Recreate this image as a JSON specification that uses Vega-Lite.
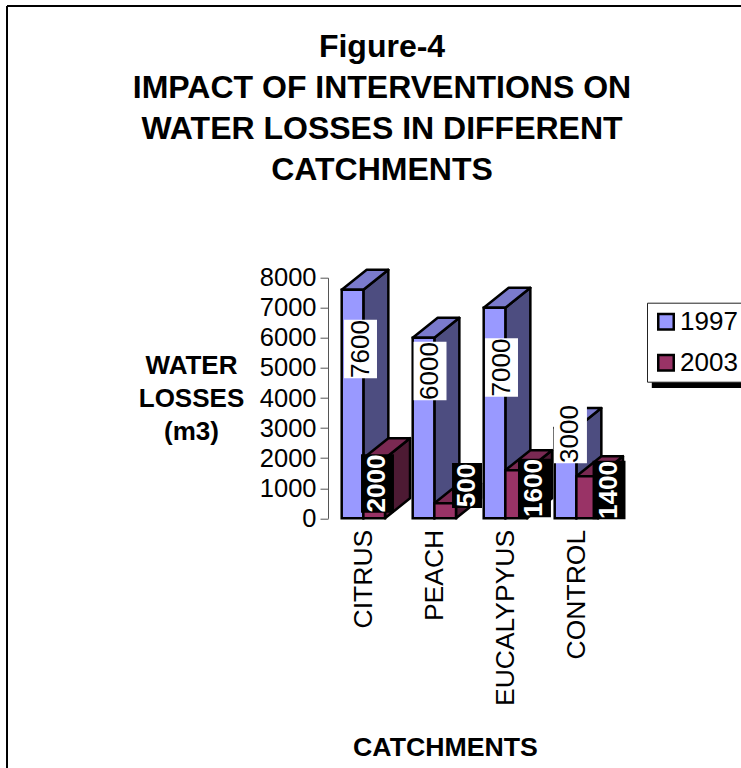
{
"$schema":"https://vega.github.io/schema/vega-lite/v6.json",
"width":284,"height":240.6,"autosize":"none",
"padding":{"left":328,"top":277.7,"right":129,"bottom":249.7},
"background":"white",
"config":{"view":{"stroke":null},"font":"Liberation Sans"},
"title":{"text":["Figure-4","IMPACT OF INTERVENTIONS ON","WATER LOSSES IN DIFFERENT","CATCHMENTS"],"anchor":"middle","frame":"group","dx":-88,"dy":185,"fontSize":32,"fontWeight":"bold","lineHeight":41,"font":"Liberation Sans","color":"black"},
"data":{"values":[
{"catchment":"CITRUS","year":"1997","value":7600},
{"catchment":"PEACH","year":"1997","value":6000},
{"catchment":"EUCALYPYUS","year":"1997","value":7000},
{"catchment":"CONTROL","year":"1997","value":3000},
{"catchment":"CITRUS","year":"2003","value":2000},
{"catchment":"PEACH","year":"2003","value":500},
{"catchment":"EUCALYPYUS","year":"2003","value":1600},
{"catchment":"CONTROL","year":"2003","value":1400}
]},
"transform":[
{"calculate":"indexof(['CITRUS','PEACH','EUCALYPYUS','CONTROL'],datum.catchment)+0.193+(datum.year==='2003'?0.305:0)","as":"x0"},
{"calculate":"datum.x0+0.305","as":"x1"},
{"calculate":"{'1997CITRUS':0.458,'1997PEACH':1.437,'1997EUCALYPYUS':2.444,'1997CONTROL':3.415,'2003CITRUS':0.697,'2003PEACH':1.958,'2003EUCALYPYUS':2.908,'2003CONTROL':3.958}[datum.year+datum.catchment]","as":"lx"},
{"calculate":"{'1997CITRUS':5630,'1997PEACH':4898,'1997EUCALYPYUS':5014,'1997CONTROL':2803,'2003CITRUS':1157,'2003PEACH':1091,'2003EUCALYPYUS':1007,'2003CONTROL':941}[datum.year+datum.catchment]","as":"ly"},
{"calculate":"datum.value===500?0.211:0.232","as":"hw"},
{"calculate":"datum.value===500?748:975","as":"hh"},
{"calculate":"datum.lx-datum.hw","as":"bx0"},
{"calculate":"datum.lx+datum.hw","as":"bx1"},
{"calculate":"datum.ly-datum.hh","as":"by0"},
{"calculate":"datum.ly+datum.hh","as":"by1"}
],
"layer":[
{"transform":[{"calculate":"[0,1]","as":"t"},{"flatten":["t"]},{"calculate":"datum.x1+datum.t*0.352","as":"sx"},{"calculate":"datum.value+datum.t*665","as":"sy"},{"calculate":"datum.t*665","as":"sy0"}],
"mark":{"type":"area","stroke":"black","strokeWidth":2.5,"strokeJoin":"round"},
"encoding":{"x":{"field":"sx","type":"quantitative","scale":{"domain":[0,4]},"axis":{"values":[0.5,1.5,2.5,3.5],"labelExpr":"['CITRUS','PEACH','EUCALYPYUS','CONTROL'][floor(datum.value)]","labelAngle":-90,"labelAlign":"right","labelBaseline":"middle","labelFontSize":26.5,"labelColor":"black","labelPadding":11,"domain":false,"ticks":false,"grid":false,"title":"CATCHMENTS","titleFontSize":26.7,"titleFontWeight":"bold","titleColor":"black","titleX":117,"titleY":229,"titleBaseline":"middle","labelFlush":false,"labelOverlap":false,"labelLimit":300}},
"y":{"field":"sy","type":"quantitative","scale":{"domain":[0,8000]},"axis":{"values":[0,1000,2000,3000,4000,5000,6000,7000,8000],"tickCount":9,"format":"d","labelOverlap":false,"tickSize":8,"domainColor":"#555555","tickColor":"#555555","labelFontSize":25.5,"labelColor":"black","labelPadding":4,"grid":false,"title":["WATER","LOSSES","(m3)"],"titleAngle":0,"titleFontSize":26,"titleFontWeight":"bold","titleColor":"black","titleAlign":"center","titleBaseline":"top","titleX":-137,"titleY":75,"titleLineHeight":33}},
"y2":{"field":"sy0"},
"fill":{"field":"year","type":"nominal","legend":null,"scale":{"domain":["1997","2003"],"range":["#4d4d80","#4d1a33"]}},
"detail":{"field":"catchment"}}},
{"transform":[{"calculate":"[0,1]","as":"t"},{"flatten":["t"]},{"calculate":"datum.x0+datum.t*0.352","as":"tx0"},{"calculate":"datum.x1+datum.t*0.352","as":"tx1"},{"calculate":"datum.value+datum.t*665","as":"ty"}],
"mark":{"type":"area","orient":"horizontal","stroke":"black","strokeWidth":2.5,"strokeJoin":"round"},
"encoding":{"y":{"field":"ty","type":"quantitative"},"x":{"field":"tx0","type":"quantitative"},"x2":{"field":"tx1"},
"fill":{"field":"year","type":"nominal","legend":null,"scale":{"domain":["1997","2003"],"range":["#7a7acc","#7a2952"]}},
"detail":{"field":"catchment"}}},
{"mark":{"type":"rect","stroke":"black","strokeWidth":2.5},
"encoding":{"x":{"field":"x0","type":"quantitative"},"x2":{"field":"x1"},"y":{"field":"value","type":"quantitative"},"y2":{"datum":0},
"fill":{"field":"year","type":"nominal","scale":{"domain":["1997","2003"],"range":["#9999ff","#993366"]},
"legend":{"orient":"none","legendX":319,"legendY":25,"title":null,"fillColor":"white","strokeColor":"#222222","padding":6,"symbolType":"square","symbolSize":240,"symbolStrokeColor":"black","symbolStrokeWidth":2.5,"symbolOpacity":1,"labelFontSize":26,"labelColor":"black","labelFont":"Liberation Sans","rowPadding":15,"labelOffset":1}}}},
{"transform":[{"filter":"datum.year==='1997'"}],"mark":{"type":"rect","fill":"white"},"encoding":{"x":{"field":"bx0","type":"quantitative"},"x2":{"field":"bx1"},"y":{"field":"by0","type":"quantitative"},"y2":{"field":"by1"}}},
{"transform":[{"filter":"datum.year==='2003'"}],"mark":{"type":"rect","fill":"black"},"encoding":{"x":{"field":"bx0","type":"quantitative"},"x2":{"field":"bx1"},"y":{"field":"by0","type":"quantitative"},"y2":{"field":"by1"}}},
{"transform":[{"filter":"datum.year==='1997'"}],"mark":{"type":"text","angle":270,"align":"center","baseline":"middle","fontSize":26,"color":"black"},"encoding":{"x":{"field":"lx","type":"quantitative"},"y":{"field":"ly","type":"quantitative"},"text":{"field":"value","type":"quantitative","format":"d"}}},
{"transform":[{"filter":"datum.year==='2003'"}],"mark":{"type":"text","angle":270,"align":"center","baseline":"middle","fontSize":26,"fontWeight":"bold","color":"white"},"encoding":{"x":{"field":"lx","type":"quantitative"},"y":{"field":"ly","type":"quantitative"},"text":{"field":"value","type":"quantitative","format":"d"}}},
{"mark":{"type":"rule","color":"black","strokeWidth":1},"encoding":{"x":{"datum":-4.52,"type":"quantitative"},"y":{"datum":17034,"type":"quantitative"},"y2":{"datum":-9000}}},
{"mark":{"type":"rule","color":"black","strokeWidth":1},"encoding":{"x":{"datum":-4.52,"type":"quantitative"},"x2":{"datum":6},"y":{"datum":17034,"type":"quantitative"}}},
{"mark":{"type":"rule","color":"black","strokeWidth":6},"encoding":{"x":{"datum":4.563,"type":"quantitative"},"x2":{"datum":6},"y":{"datum":4432,"type":"quantitative"}}}
],
"resolve":{"scale":{"fill":"independent"}}
}
